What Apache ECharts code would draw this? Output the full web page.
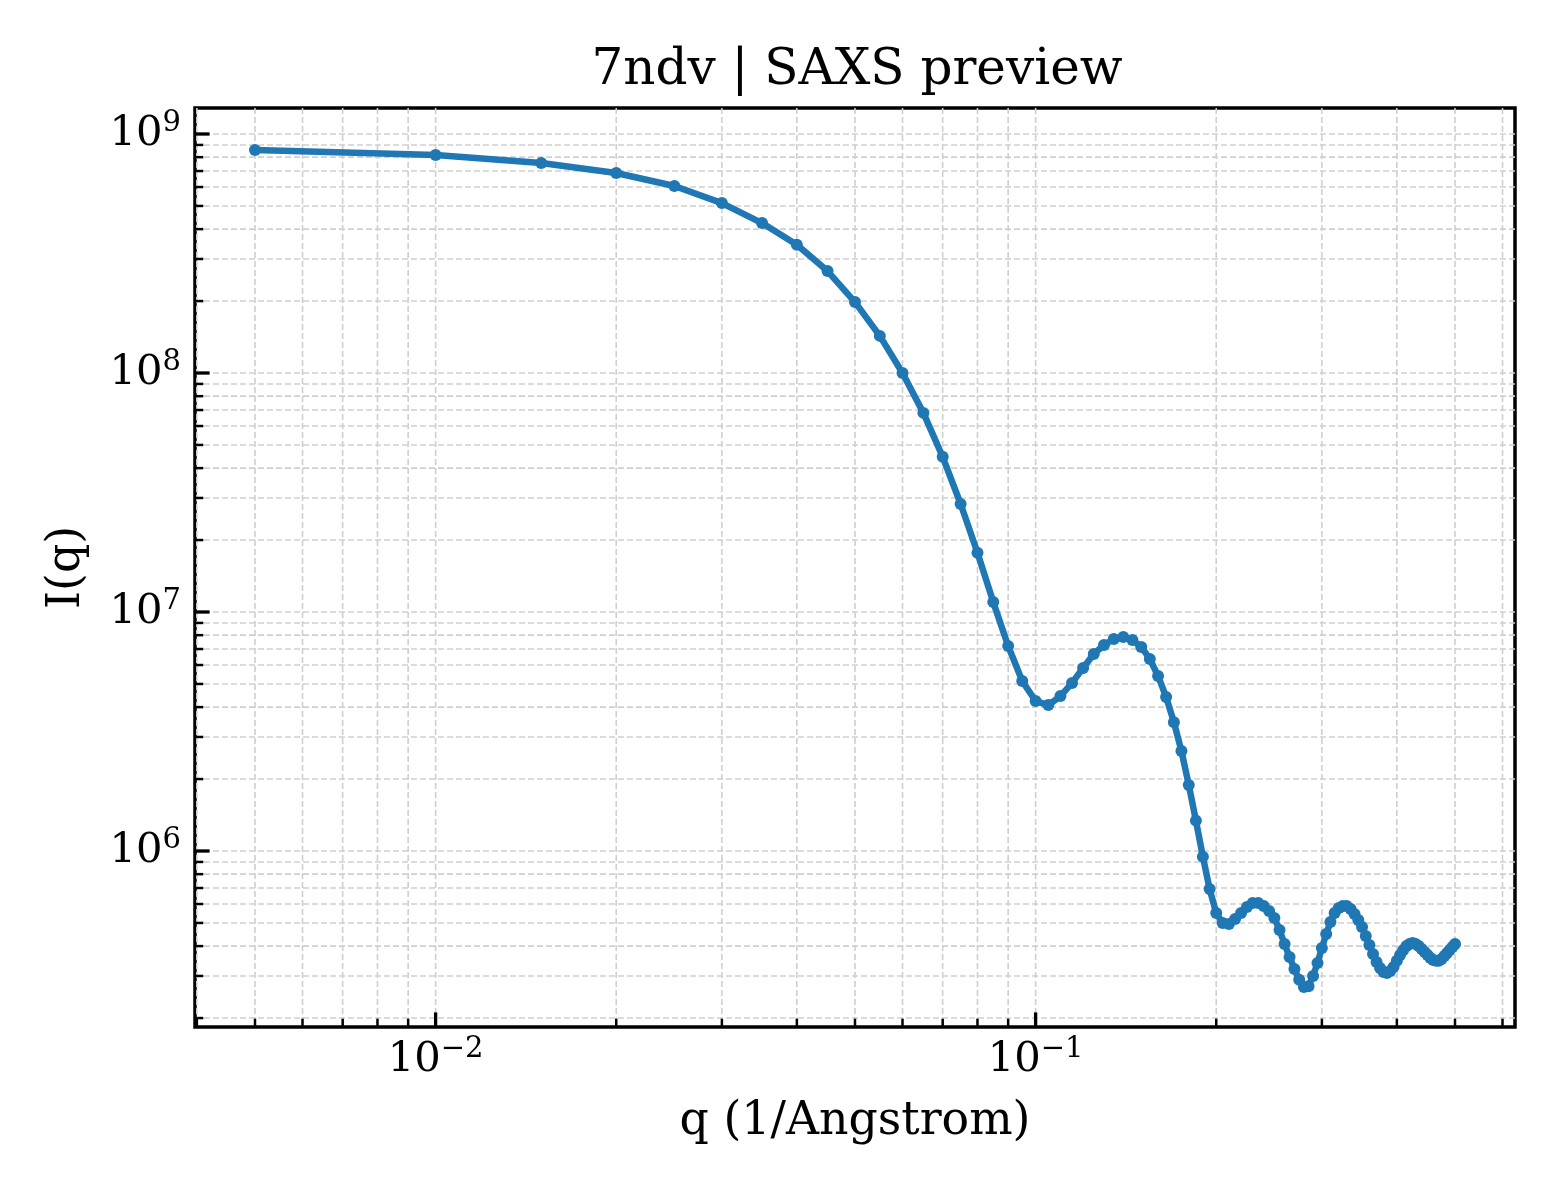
<!DOCTYPE html>
<html>
<head>
<meta charset="utf-8">
<title>7ndv | SAXS preview</title>
<script src="https://cdn.jsdelivr.net/npm/echarts@6.0.0/dist/echarts.min.js"></script>
<style>
  html, body { margin: 0; padding: 0; background: #fff; }
  #chart { width: 1560px; height: 1200px; }
</style>
</head>
<body>
<div id="chart"></div>
<script>
// q in 1/Angstrom
const qValues = [
  0.005, 0.010, 0.015, 0.020, 0.025, 0.030, 0.035, 0.040, 0.045, 0.050,
  0.055, 0.060, 0.065, 0.070, 0.075, 0.080, 0.085, 0.090, 0.095, 0.100,
  0.105, 0.110, 0.115, 0.120, 0.125, 0.130, 0.135, 0.140, 0.145, 0.150,
  0.155, 0.160, 0.165, 0.170, 0.175, 0.180, 0.185, 0.190, 0.195, 0.200,
  0.205, 0.210, 0.215, 0.220, 0.225, 0.230, 0.235, 0.240, 0.245, 0.250,
  0.255, 0.260, 0.265, 0.270, 0.275, 0.280, 0.285, 0.290, 0.295, 0.300,
  0.305, 0.310, 0.315, 0.320, 0.325, 0.330, 0.335, 0.340, 0.345, 0.350,
  0.355, 0.360, 0.365, 0.370, 0.375, 0.380, 0.385, 0.390, 0.395, 0.400,
  0.405, 0.410, 0.415, 0.420, 0.425, 0.430, 0.435, 0.440, 0.445, 0.450,
  0.455, 0.460, 0.465, 0.470, 0.475, 0.480, 0.485, 0.490, 0.495, 0.500
];

// I(q)
const intensity = [
  8.57e8, 8.17e8, 7.56e8, 6.87e8, 6.06e8, 5.14e8, 4.24e8, 3.44e8, 2.67e8, 1.98e8,
  1.43e8, 1.00e8, 6.81e7, 4.46e7, 2.83e7, 1.77e7, 1.10e7, 7.21e6, 5.14e6, 4.24e6,
  4.08e6, 4.45e6, 5.05e6, 5.83e6, 6.67e6, 7.28e6, 7.71e6, 7.86e6, 7.64e6, 7.14e6,
  6.36e6, 5.40e6, 4.41e6, 3.46e6, 2.62e6, 1.89e6, 1.34e6, 9.47e5, 6.93e5, 5.50e5,
  5.00e5, 4.95e5, 5.19e5, 5.50e5, 5.83e5, 6.06e5, 6.06e5, 5.89e5, 5.61e5, 5.24e5,
  4.67e5, 4.08e5, 3.60e5, 3.21e5, 2.89e5, 2.70e5, 2.72e5, 3.00e5, 3.40e5, 3.93e5,
  4.49e5, 5.05e5, 5.50e5, 5.77e5, 5.89e5, 5.89e5, 5.72e5, 5.45e5, 5.14e5, 4.81e5,
  4.41e5, 4.04e5, 3.71e5, 3.43e5, 3.24e5, 3.12e5, 3.09e5, 3.15e5, 3.27e5, 3.47e5,
  3.67e5, 3.85e5, 4.00e5, 4.08e5, 4.12e5, 4.08e5, 4.00e5, 3.89e5, 3.78e5, 3.67e5,
  3.57e5, 3.50e5, 3.47e5, 3.47e5, 3.53e5, 3.64e5, 3.74e5, 3.85e5, 3.97e5, 4.08e5
];

// log axis ticks (major = labelled decades)
const xMajorTicks = [0.01, 0.1];
const xMinorTicks = [
  0.004, 0.005, 0.006, 0.007, 0.008, 0.009,
  0.02, 0.03, 0.04, 0.05, 0.06, 0.07, 0.08, 0.09,
  0.2, 0.3, 0.4, 0.5, 0.6
];
const yMajorTicks = [1e6, 1e7, 1e8, 1e9];
const yMinorTicks = [
  2e5, 3e5, 4e5, 5e5, 6e5, 7e5, 8e5, 9e5,
  2e6, 3e6, 4e6, 5e6, 6e6, 7e6, 8e6, 9e6,
  2e7, 3e7, 4e7, 5e7, 6e7, 7e7, 8e7, 9e7,
  2e8, 3e8, 4e8, 5e8, 6e8, 7e8, 8e8, 9e8
];

// axis range: data range plus 5% margins in log space (matplotlib style)
const xMin = Math.pow(10, -2.40103);
const xMax = Math.pow(10, -0.20103);
const yMin = Math.pow(10, 5.2636);
const yMax = Math.pow(10, 9.1088);

const FONT = "'DejaVu Serif', 'Liberation Serif', serif";
const GRID_COLOR = "#cfcfcf";

const chart = echarts.init(document.getElementById("chart"), null, { renderer: "canvas" });

function powLabel(v) {
  const e = Math.round(Math.log10(v));
  const exp = e < 0 ? "\u2212" + (-e) : String(e);
  return "{b|10}{s|" + exp + "}";
}

const labelRich = {
  b: { fontSize: 41.7, fontFamily: FONT, color: "#000", lineHeight: 50 },
  s: { fontSize: 29, fontFamily: FONT, color: "#000", lineHeight: 29, verticalAlign: "top" }
};

const xTickData = xMajorTicks.map(v => [v, yMin, 1]).concat(xMinorTicks.map(v => [v, yMin, 0]));
const yTickData = yMajorTicks.map(v => [xMin, v, 1]).concat(yMinorTicks.map(v => [xMin, v, 0]));

function renderXTick(params, api) {
  const cs = params.coordSys;
  const pt = api.coord([api.value(0), api.value(1)]);
  const major = api.value(2) === 1;
  const bottom = cs.y + cs.height;
  return {
    type: "group",
    children: [
      {
        type: "line",
        shape: { x1: pt[0], y1: cs.y, x2: pt[0], y2: bottom },
        style: { stroke: GRID_COLOR, lineWidth: 1.6, lineDash: [6, 3] },
        z2: 1
      },
      {
        type: "line",
        shape: { x1: pt[0], y1: bottom, x2: pt[0], y2: bottom - (major ? 14.6 : 8.3) },
        style: { stroke: "#000", lineWidth: major ? 3.3 : 2.5 },
        z2: 5
      }
    ]
  };
}

function renderYTick(params, api) {
  const cs = params.coordSys;
  const pt = api.coord([api.value(0), api.value(1)]);
  const major = api.value(2) === 1;
  return {
    type: "group",
    children: [
      {
        type: "line",
        shape: { x1: cs.x, y1: pt[1], x2: cs.x + cs.width, y2: pt[1] },
        style: { stroke: GRID_COLOR, lineWidth: 1.6, lineDash: [6, 3] },
        z2: 1
      },
      {
        type: "line",
        shape: { x1: cs.x, y1: pt[1], x2: cs.x + (major ? 14.6 : 8.3), y2: pt[1] },
        style: { stroke: "#000", lineWidth: major ? 3.3 : 2.5 },
        z2: 5
      }
    ]
  };
}

chart.setOption({
  animation: false,
  backgroundColor: "#fff",
  title: {
    text: "7ndv | SAXS preview",
    left: 852,
    top: 41,
    textAlign: "center",
    textStyle: { fontFamily: FONT, fontSize: 50, fontWeight: "normal", color: "#000" }
  },
  grid: {
    left: 195,
    right: 45,
    top: 108,
    bottom: 173,
    show: true,
    borderColor: "#000",
    borderWidth: 3.5,
    backgroundColor: "transparent"
  },
  xAxis: {
    type: "log",
    logBase: 10,
    min: xMin,
    max: xMax,
    name: "q (1/Angstrom)",
    nameLocation: "middle",
    nameGap: 72,
    nameTextStyle: { fontFamily: FONT, fontSize: 45.8, color: "#000" },
    axisLine: { show: false },
    axisTick: { show: false },
    splitLine: { show: false },
    minorTick: { show: false },
    axisLabel: {
      margin: 8,
      showMinLabel: false,
      showMaxLabel: false,
      formatter: powLabel,
      rich: labelRich
    }
  },
  yAxis: {
    type: "log",
    logBase: 10,
    min: yMin,
    max: yMax,
    name: "I(q)",
    nameLocation: "middle",
    nameGap: 105,
    nameTextStyle: { fontFamily: FONT, fontSize: 45.8, color: "#000" },
    axisLine: { show: false },
    axisTick: { show: false },
    splitLine: { show: false },
    minorTick: { show: false },
    axisLabel: {
      margin: 14,
      showMinLabel: false,
      showMaxLabel: false,
      formatter: powLabel,
      rich: labelRich
    }
  },
  series: [
    {
      name: "x grid",
      type: "custom",
      renderItem: renderXTick,
      data: xTickData,
      z: 1,
      silent: true,
      clip: false
    },
    {
      name: "y grid",
      type: "custom",
      renderItem: renderYTick,
      data: yTickData,
      z: 1,
      silent: true,
      clip: false
    },
    {
      name: "I(q)",
      type: "line",
      data: qValues.map((q, i) => [q, intensity[i]]),
      smooth: false,
      showAllSymbol: true,
      symbol: "circle",
      symbolSize: 12,
      itemStyle: { color: "#1f77b4" },
      lineStyle: { color: "#1f77b4", width: 6.5 },
      z: 3
    }
  ]
});

window.addEventListener("resize", () => {
  chart.resize();
});
</script>
</body>
</html>
